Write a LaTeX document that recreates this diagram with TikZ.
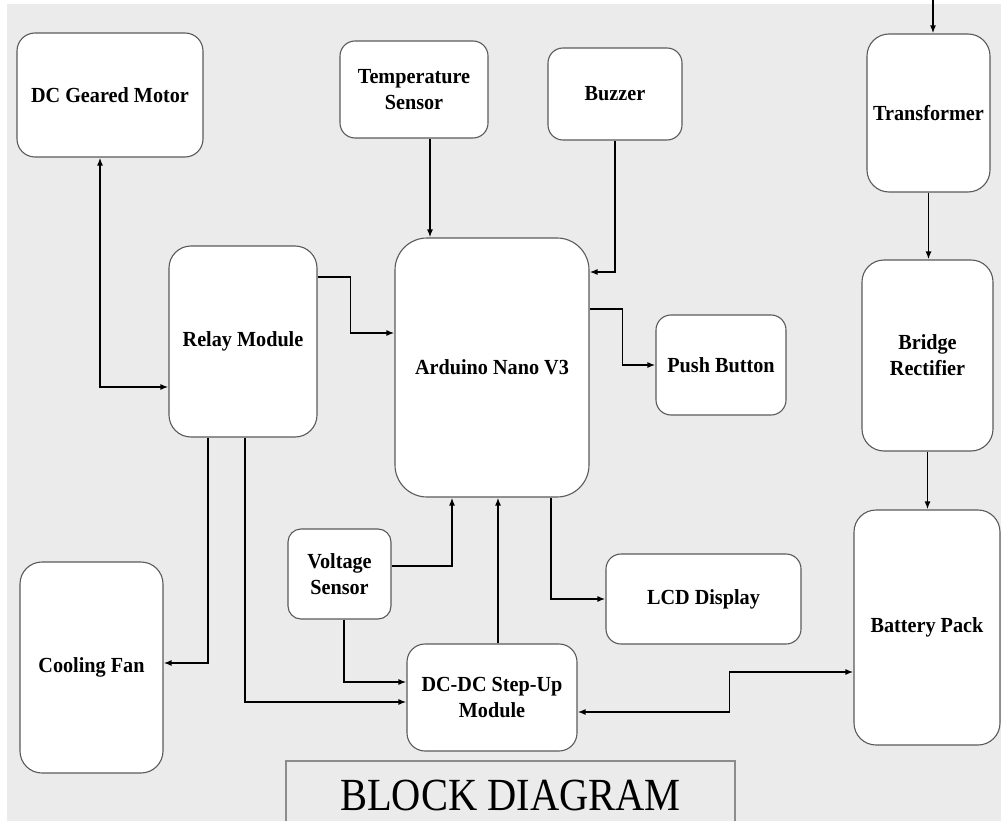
\documentclass[tikz,border=0pt]{standalone}
\usepackage{fontspec}
\setmainfont{Liberation Serif}
\newfontfamily\blockfont[FakeStretch=0.94]{Liberation Serif}
\newfontfamily\titlefont[FakeStretch=0.88]{Liberation Serif}
\usetikzlibrary{arrows.meta,positioning}
\definecolor{bggrey}{RGB}{235,235,235}
\definecolor{edgegrey}{RGB}{90,90,90}

\begin{document}
\begin{tikzpicture}[x=1pt,y=-1pt,>={Latex[length=8pt,width=6pt]},line width=1.6pt]
  \tikzstyle{block}=[draw=edgegrey,line width=1.1pt,fill=white,rounded corners=18pt,
    inner sep=0pt,align=center,font=\blockfont\bfseries\fontsize{21.5}{26}\selectfont]
  \clip (0,0) rectangle (1001,821);
  \fill[white] (0,0) rectangle (1001,821);
  \fill[bggrey] (7,4) rectangle (1001,821);

  \node[block,minimum width=186pt,minimum height=124pt] (motor) at (110,95) {DC Geared Motor};
  \node[block,minimum width=148pt,minimum height=97pt,rounded corners=15pt] (temp) at (414,89.5) {Temperature\\Sensor};
  \node[block,minimum width=134pt,minimum height=92pt,rounded corners=15pt] (buzzer) at (615,94) {Buzzer};
  \node[block,minimum width=123pt,minimum height=158pt,rounded corners=22pt] (trans) at (928.5,113) {Transformer};
  \node[block,minimum width=148pt,minimum height=191pt,rounded corners=22pt] (relay) at (243,341.5) {Relay Module};
  \node[block,minimum width=194pt,minimum height=259pt,rounded corners=32pt] (nano) at (492,367.5) {Arduino Nano V3};
  \node[block,minimum width=130pt,minimum height=100pt,rounded corners=15pt] (push) at (721,365) {Push Button};
  \node[block,minimum width=131pt,minimum height=191pt,rounded corners=22pt] (bridge) at (927.5,355.5) {Bridge\\Rectifier};
  \node[block,minimum width=146pt,minimum height=235pt,rounded corners=22pt] (battery) at (927,627.5) {Battery Pack};
  \node[block,minimum width=195pt,minimum height=90pt,rounded corners=15pt] (lcd) at (703.5,599) {LCD Display};
  \node[block,minimum width=103pt,minimum height=90pt,rounded corners=13pt] (volt) at (339.5,574) {Voltage\\Sensor};
  \node[block,minimum width=170pt,minimum height=107pt,rounded corners=18pt] (dcdc) at (492,697.5) {DC-DC Step-Up\\Module};
  \node[block,minimum width=143pt,minimum height=211pt,rounded corners=22pt] (fan) at (91.5,667.5) {Cooling Fan};
  \node[draw=black!45,line width=1.3pt,minimum width=449pt,minimum height=68pt,inner sep=0pt,
    font=\titlefont\fontsize{46}{46}\selectfont] (title) at (510.5,795) {BLOCK DIAGRAM};
  \coordinate (mains) at (933,-2);

  \draw[<->] ([xshift=-10pt]motor.south) |- ([yshift=-45.5pt]relay.west);
  \draw[->] ([xshift=16pt]temp.south) -- ([xshift=16pt]temp.south |- nano.north);
  \draw[->] (buzzer.south) |- ([yshift=95.5pt]nano.east);
  \draw[->] ([yshift=64.5pt]relay.east) -- ++(33,0) |- ([yshift=34.5pt]nano.west);
  \draw[->] ([yshift=58.5pt]nano.east) -- ++(33,0) |- (push.west);
  \draw[->] (mains) -- (mains |- trans.north);
  \draw[->] (trans.south) -- (trans.south |- bridge.north);
  \draw[->] (bridge.south) -- (bridge.south |- battery.north);
  \draw[->] ([xshift=-35pt]relay.south) |- ([yshift=4.5pt]fan.east);
  \draw[->] ([xshift=2pt]relay.south) |- ([yshift=-4.5pt]dcdc.west);
  \draw[->] ([yshift=8pt]volt.east) -| ([xshift=-40pt]nano.south);
  \draw[->] ([xshift=4.5pt]volt.south) |- ([yshift=15.5pt]dcdc.west);
  \draw[->] ([xshift=6pt]dcdc.north) -- ([xshift=6pt]nano.south);
  \draw[->] ([xshift=59pt]nano.south) |- (lcd.west);
  \draw[<->] ([yshift=-14.5pt]dcdc.east) -- ++(152,0) |- ([yshift=-44.5pt]battery.west);
\end{tikzpicture}
\end{document}
